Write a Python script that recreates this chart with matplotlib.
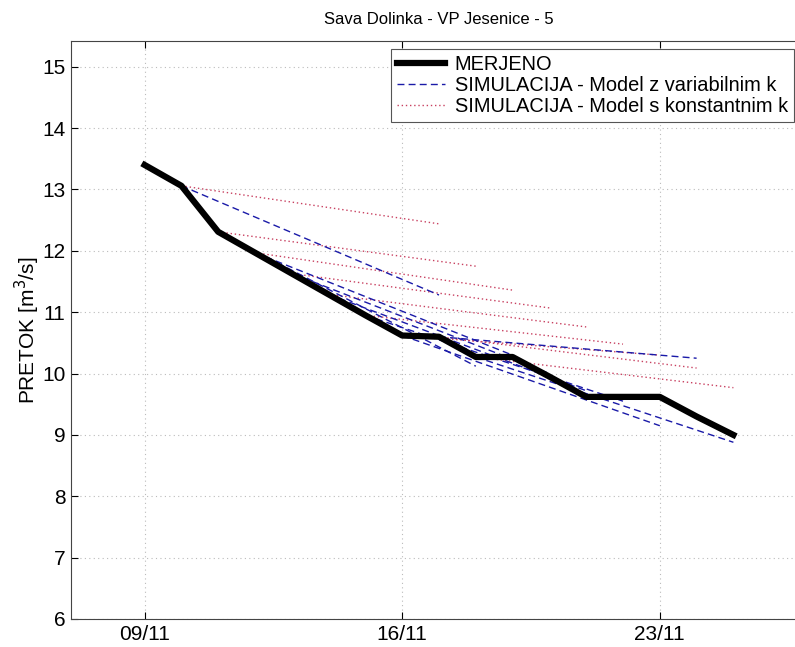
import matplotlib
matplotlib.use("Agg")
import matplotlib.pyplot as plt

plt.rcParams['font.family'] = ['Liberation Sans', 'DejaVu Sans']

# days since 09/11
meas_days = list(range(0, 17))
meas_vals = [13.40, 13.06, 12.31, 11.97, 11.63, 11.29, 10.95, 10.62, 10.60,
             10.27, 10.27, 9.95, 9.62, 9.62, 9.62, 9.30, 9.00]

# simulations: start day, end day (7-day horizon); start value = measured at start
sim_start_days = [1, 2, 3, 4, 5, 6, 7, 8, 9]
sim_end_days = [8, 9, 10, 11, 12, 13, 14, 15, 16]
var_k_end_vals = [11.28, 10.12, 10.30, 10.00, 9.72, 9.55, 9.15, 10.25, 8.88]
const_k_end_vals = [12.44, 11.75, 11.36, 11.07, 10.76, 10.48, 10.30, 10.09, 9.77]

xtick_pos = [0, 7, 14]
xtick_labels = ['09/11', '16/11', '23/11']
ytick_vals = [6, 7, 8, 9, 10, 11, 12, 13, 14, 15]

fig = plt.figure(figsize=(7.95, 6.47), dpi=100)
ax = fig.add_axes([71/795, 28/647, 736/795, 578/647])

ax.plot(meas_days, meas_vals, color='black', lw=4.5, solid_joinstyle='round',
        label='MERJENO', zorder=5)
for i, (s, e) in enumerate(zip(sim_start_days, sim_end_days)):
    v0 = meas_vals[meas_days.index(s)]
    ax.plot([s, e], [v0, var_k_end_vals[i]], color='#1a1aa8', lw=1.0,
            ls=(0, (5, 3)), label='SIMULACIJA - Model z variabilnim k' if i == 0 else None,
            zorder=4)
for i, (s, e) in enumerate(zip(sim_start_days, sim_end_days)):
    v0 = meas_vals[meas_days.index(s)]
    ax.plot([s, e], [v0, const_k_end_vals[i]], color='#c84060', lw=1.0,
            ls=(0, (1, 2)), label='SIMULACIJA - Model s konstantnim k' if i == 0 else None,
            zorder=3)

ax.set_xlim(-2, 18)
ax.set_ylim(6, 15.42)
ax.set_xticks(xtick_pos)
ax.set_xticklabels(xtick_labels)
ax.set_yticks(ytick_vals)
ax.tick_params(direction='in', labelsize=15, length=5, top=True, right=True, pad=4)
ax.grid(True, ls=(0, (1, 3)), color='#bbbbbb', lw=0.8)
ax.set_ylabel('PRETOK [m$^3$/s]', fontsize=15, labelpad=0)
ax.set_title('Sava Dolinka - VP Jesenice - 5', fontsize=12, pad=12)
for sp in ax.spines.values():
    sp.set_color('#444444')

leg = ax.legend(loc='upper right', bbox_to_anchor=(0.982, 0.986), fontsize=14.4,
                fancybox=False, framealpha=1, edgecolor='#555555',
                handlelength=2.4, borderaxespad=0.0, labelspacing=0.1,
                borderpad=0.3, handletextpad=0.5)
leg.get_frame().set_linewidth(0.8)

fig.savefig('out.png', dpi=100)
